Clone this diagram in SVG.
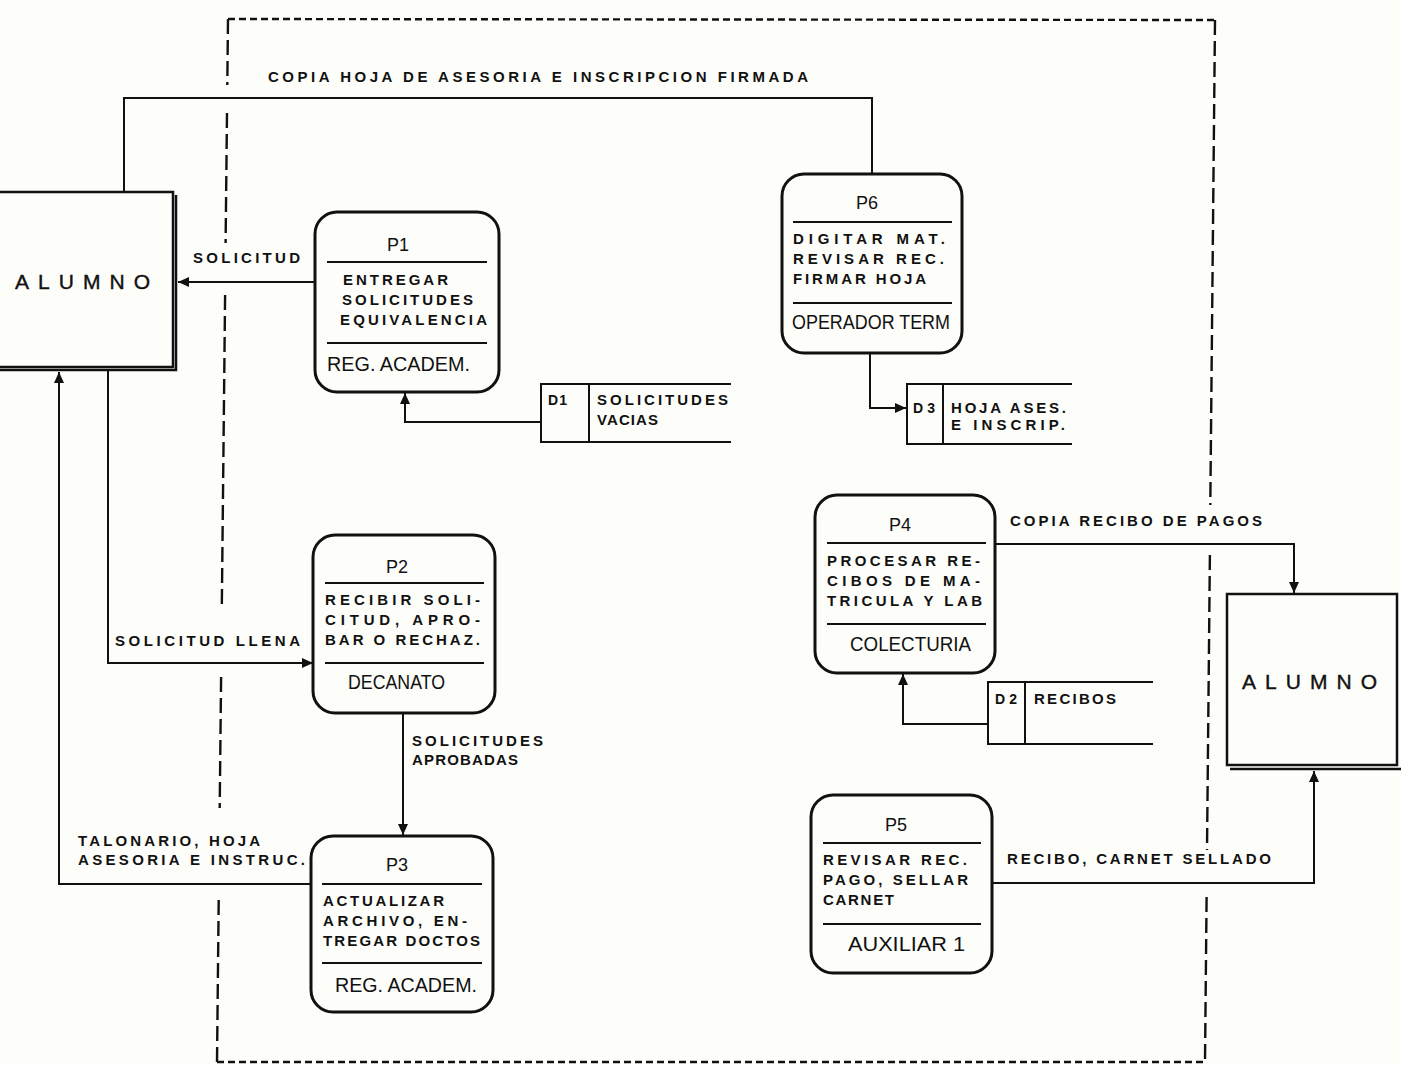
<svg xmlns="http://www.w3.org/2000/svg" width="1401" height="1065" viewBox="0 0 1401 1065">
<style>
.bg{fill:#fdfdfa}
.proc{fill:none;stroke:#111;stroke-width:3}
.sep{stroke:#111;stroke-width:2.2}
.ent{fill:none;stroke:#111;stroke-width:2.5}
.store{fill:none;stroke:#111;stroke-width:2}
.conn{fill:none;stroke:#111;stroke-width:2}
.dashv{fill:none;stroke:#111;stroke-width:2.4;stroke-dasharray:15 6}
.dashh{fill:none;stroke:#111;stroke-width:2.4;stroke-dasharray:7 4}
.lbl{font-family:"Liberation Sans",Arial,sans-serif;font-weight:bold;font-size:15px;fill:#111}
.body{font-family:"Liberation Sans",Arial,sans-serif;font-weight:bold;font-size:15px;fill:#111}
.ds{font-family:"Liberation Sans",Arial,sans-serif;font-weight:bold;font-size:14px;fill:#111}
.hdr{font-family:"Liberation Sans",Arial,sans-serif;font-size:18px;fill:#111;text-anchor:middle}
.who{font-family:"Liberation Sans",Arial,sans-serif;font-size:21px;fill:#111}
.ent-t{font-family:"Liberation Sans",Arial,sans-serif;font-size:21px;fill:#111;stroke:#111;stroke-width:0.4}
</style>
<defs>
<marker id="arr" markerUnits="userSpaceOnUse" markerWidth="12" markerHeight="10" refX="11" refY="5" orient="auto">
<path d="M0,0 L11,5 L0,10 z" fill="#111"/>
</marker>
</defs>
<rect class="bg" x="0" y="0" width="1401" height="1065"/>

<g id="boundary">
<line class="dashh" x1="228" y1="19" x2="1215" y2="20"/>
<line class="dashh" x1="217" y1="1062" x2="1205" y2="1062"/>
<line class="dashv" x1="228" y1="19" x2="227.3" y2="85"/>
<line class="dashv" x1="227" y1="113" x2="225.6" y2="243"/>
<line class="dashv" x1="225.1" y1="295" x2="221.8" y2="608"/>
<line class="dashv" x1="221.1" y1="677" x2="219.7" y2="808"/>
<line class="dashv" x1="218.7" y1="900" x2="217" y2="1062"/>
<line class="dashv" x1="1215" y1="20" x2="1210.3" y2="505"/>
<line class="dashv" x1="1209.9" y1="555" x2="1207" y2="850"/>
<line class="dashv" x1="1206.6" y1="897" x2="1205" y2="1062"/>
</g>

<g id="connectors">
<polyline class="conn" points="872,174 872,98 124,98 124,192"/>
<line class="conn" x1="315" y1="282" x2="178" y2="282" marker-end="url(#arr)"/>
<polyline class="conn" points="541,422 405,422 405,393" marker-end="url(#arr)"/>
<polyline class="conn" points="108,370 108,663 313,663" marker-end="url(#arr)"/>
<polyline class="conn" points="311,884 59,884 59,372" marker-end="url(#arr)"/>
<line class="conn" x1="403" y1="713" x2="403" y2="835" marker-end="url(#arr)"/>
<polyline class="conn" points="870,353 870,408 906,408" marker-end="url(#arr)"/>
<polyline class="conn" points="995,544 1294,544 1294,593" marker-end="url(#arr)"/>
<polyline class="conn" points="988,724 903,724 903,674" marker-end="url(#arr)"/>
<polyline class="conn" points="992,883 1314,883 1314,771" marker-end="url(#arr)"/>
<text class="lbl" x="268" y="82" textLength="540" lengthAdjust="spacing">COPIA HOJA DE ASESORIA E INSCRIPCION FIRMADA</text>
<text class="lbl" x="193" y="263" textLength="107" lengthAdjust="spacing">SOLICITUD</text>
<text class="lbl" x="115" y="646" textLength="185" lengthAdjust="spacing">SOLICITUD LLENA</text>
<text class="lbl" x="412" y="746" textLength="131" lengthAdjust="spacing">SOLICITUDES</text>
<text class="lbl" x="412" y="765" textLength="106" lengthAdjust="spacing">APROBADAS</text>
<text class="lbl" x="78" y="846" textLength="182" lengthAdjust="spacing">TALONARIO, HOJA</text>
<text class="lbl" x="78" y="865" textLength="227" lengthAdjust="spacing">ASESORIA E INSTRUC.</text>
<text class="lbl" x="1010" y="526" textLength="252" lengthAdjust="spacing">COPIA RECIBO DE PAGOS</text>
<text class="lbl" x="1007" y="864" textLength="264" lengthAdjust="spacing">RECIBO, CARNET SELLADO</text>
</g>

<g id="alumno-left">
<rect class="bg" x="-5" y="192" width="178" height="175"/>
<path class="ent" d="M-5,192 H173 V367 H-5"/>
<path class="ent" d="M176,195 V370 H-5"/>
<text class="ent-t" x="15" y="289" textLength="135" lengthAdjust="spacing">ALUMNO</text>
</g>

<g id="alumno-right">
<rect class="bg" x="1227" y="594" width="170" height="171"/>
<path class="ent" d="M1227,594 H1397 V765 H1227 Z"/>
<path class="ent" d="M1230,769 H1401"/>
<text class="ent-t" x="1242" y="689" textLength="135" lengthAdjust="spacing">ALUMNO</text>
</g>

<g id="p1">
<rect class="proc" x="315" y="212" width="184" height="180" rx="22"/>
<line class="sep" x1="327" y1="262" x2="487" y2="262"/>
<line class="sep" x1="327" y1="343" x2="487" y2="343"/>
<text class="hdr" x="398" y="251">P1</text>
<text class="body" x="343" y="285" textLength="105" lengthAdjust="spacing">ENTREGAR</text>
<text class="body" x="342" y="305" textLength="131" lengthAdjust="spacing">SOLICITUDES</text>
<text class="body" x="340" y="325" textLength="147" lengthAdjust="spacing">EQUIVALENCIA</text>
<text class="who" x="327" y="371" textLength="143" lengthAdjust="spacingAndGlyphs">REG. ACADEM.</text>
</g>

<g id="p2">
<rect class="proc" x="313" y="535" width="182" height="178" rx="22"/>
<line class="sep" x1="325" y1="583" x2="484" y2="583"/>
<line class="sep" x1="325" y1="663" x2="484" y2="663"/>
<text class="hdr" x="397" y="573">P2</text>
<text class="body" x="325" y="605" textLength="155" lengthAdjust="spacing">RECIBIR SOLI-</text>
<text class="body" x="325" y="625" textLength="155" lengthAdjust="spacing">CITUD, APRO-</text>
<text class="body" x="325" y="645" textLength="155" lengthAdjust="spacing">BAR O RECHAZ.</text>
<text class="who" x="348" y="689" textLength="97" lengthAdjust="spacingAndGlyphs">DECANATO</text>
</g>

<g id="p3">
<rect class="proc" x="311" y="836" width="182" height="176" rx="22"/>
<line class="sep" x1="322" y1="884" x2="482" y2="884"/>
<line class="sep" x1="322" y1="963" x2="482" y2="963"/>
<text class="hdr" x="397" y="871">P3</text>
<text class="body" x="323" y="906" textLength="121" lengthAdjust="spacing">ACTUALIZAR</text>
<text class="body" x="323" y="926" textLength="144" lengthAdjust="spacing">ARCHIVO, EN-</text>
<text class="body" x="323" y="946" textLength="157" lengthAdjust="spacing">TREGAR DOCTOS</text>
<text class="who" x="335" y="992" textLength="142" lengthAdjust="spacingAndGlyphs">REG. ACADEM.</text>
</g>

<g id="p4">
<rect class="proc" x="815" y="495" width="180" height="178" rx="22"/>
<line class="sep" x1="827" y1="543" x2="986" y2="543"/>
<line class="sep" x1="827" y1="624" x2="986" y2="624"/>
<text class="hdr" x="900" y="531">P4</text>
<text class="body" x="827" y="566" textLength="153" lengthAdjust="spacing">PROCESAR RE-</text>
<text class="body" x="827" y="586" textLength="153" lengthAdjust="spacing">CIBOS DE MA-</text>
<text class="body" x="827" y="606" textLength="155" lengthAdjust="spacing">TRICULA Y LAB</text>
<text class="who" x="850" y="651" textLength="121" lengthAdjust="spacingAndGlyphs">COLECTURIA</text>
</g>

<g id="p5">
<rect class="proc" x="811" y="795" width="181" height="178" rx="22"/>
<line class="sep" x1="823" y1="843" x2="981" y2="843"/>
<line class="sep" x1="823" y1="924" x2="981" y2="924"/>
<text class="hdr" x="896" y="831">P5</text>
<text class="body" x="823" y="865" textLength="144" lengthAdjust="spacing">REVISAR REC.</text>
<text class="body" x="823" y="885" textLength="145" lengthAdjust="spacing">PAGO, SELLAR</text>
<text class="body" x="823" y="905" textLength="71" lengthAdjust="spacing">CARNET</text>
<text class="who" x="848" y="951" textLength="117" lengthAdjust="spacingAndGlyphs">AUXILIAR 1</text>
</g>

<g id="p6">
<rect class="proc" x="782" y="174" width="180" height="179" rx="22"/>
<line class="sep" x1="793" y1="222" x2="952" y2="222"/>
<line class="sep" x1="793" y1="303" x2="952" y2="303"/>
<text class="hdr" x="867" y="209">P6</text>
<text class="body" x="793" y="244" textLength="152" lengthAdjust="spacing">DIGITAR MAT.</text>
<text class="body" x="793" y="264" textLength="151" lengthAdjust="spacing">REVISAR REC.</text>
<text class="body" x="793" y="284" textLength="133" lengthAdjust="spacing">FIRMAR HOJA</text>
<text class="who" x="792" y="329" textLength="158" lengthAdjust="spacingAndGlyphs">OPERADOR TERM</text>
</g>

<g id="d1">
<path class="store" d="M731,384 H541 V442 H731 M589,384 V442"/>
<text class="ds" x="548" y="405" textLength="19" lengthAdjust="spacing">D1</text>
<text class="body" x="597" y="405" textLength="131" lengthAdjust="spacing">SOLICITUDES</text>
<text class="body" x="597" y="425" textLength="61" lengthAdjust="spacing">VACIAS</text>
</g>

<g id="d2">
<path class="store" d="M1153,682 H988 V744 H1153 M1025,682 V744"/>
<text class="ds" x="995" y="704" textLength="22" lengthAdjust="spacing">D2</text>
<text class="body" x="1034" y="704" textLength="82" lengthAdjust="spacing">RECIBOS</text>
</g>

<g id="d3">
<path class="store" d="M1072,384 H907 V444 H1072 M943,384 V444"/>
<text class="ds" x="913" y="413" textLength="22" lengthAdjust="spacing">D3</text>
<text class="body" x="951" y="413" textLength="115" lengthAdjust="spacing">HOJA ASES.</text>
<text class="body" x="951" y="430" textLength="114" lengthAdjust="spacing">E INSCRIP.</text>
</g>
</svg>
